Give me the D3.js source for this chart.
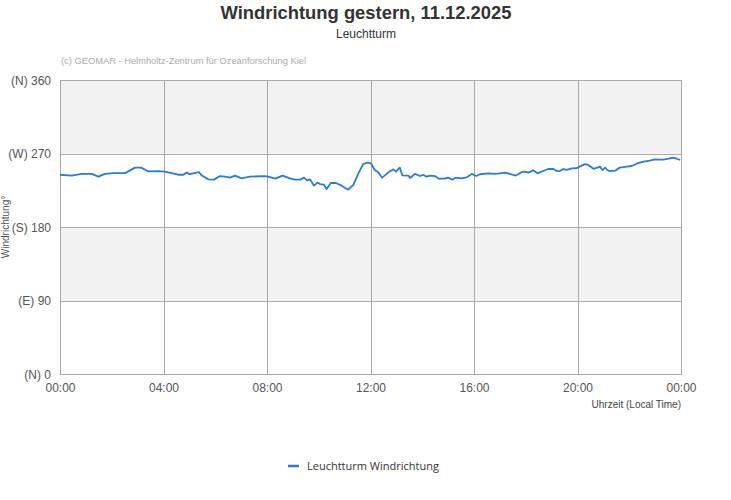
<!DOCTYPE html>
<html>
<head>
<meta charset="utf-8">
<script src="https://cdn.jsdelivr.net/npm/d3@7"></script>
<style>
  body { margin: 0; background: #fff; }
  svg { display: block; font-family: "Liberation Sans", Arial, sans-serif; }
</style>
</head>
<body>
<div id="chart"></div>
<script>
// wind direction readings, time of day
const times = ['00:00','00:27','00:50','01:14','01:29','01:44','02:04','02:31','02:54','03:08','03:25','03:48','04:03','04:34','04:46','04:54','05:01','05:22','05:29','05:44','05:57','06:11','06:23','06:34','06:46','07:01','07:21','07:55','08:03','08:19','08:36','08:53','09:05','09:17','09:26','09:33','09:40','09:49','09:57','10:03','10:12','10:18','10:28','10:40','10:53','11:08','11:20','11:32','11:43','11:51','12:01','12:10','12:18','12:27','12:41','12:53','12:59','13:08','13:14','13:28','13:32','13:43','13:55','14:02','14:10','14:18','14:29','14:39','14:53','15:00','15:10','15:17','15:31','15:43','15:55','16:05','16:14','16:33','16:49','17:00','17:12','17:23','17:37','17:51','17:58','18:06','18:17','18:27','18:37','18:52','19:04','19:12','19:19','19:27','19:35','19:47','19:58','20:06','20:17','20:25','20:37','20:46','20:52','20:58','21:04','21:09','21:15','21:27','21:38','21:54','22:06','22:17','22:33','22:48','22:59','23:11','23:19','23:31','23:41','23:50','23:58'];
const direction = [244,243,245,245,241.6,245,246,246,252.7,252.7,248,248.5,247.8,244,244,246.6,244.6,247.3,243,238.3,238,242.4,241.6,240.4,243,239.6,241.6,242.4,241.6,239.2,243,239.6,238,238,240.4,237.1,238.3,230.6,234.3,232.6,231.8,226.5,234,233.9,230.6,225.7,231.4,245.7,257,258.7,258,249.8,247,240.4,246.6,250.6,247.8,252.7,243.2,243,240,245,242.4,244,241.6,243,242.4,239.2,239.2,240.4,238,240.4,239.6,240.8,245,242.4,244.6,245.7,245,245.7,246.6,245,243,247.3,247.8,246.6,249.4,245.7,248,251,251,248.5,248.5,251,250,251.7,252,254.2,257,256,251.3,252.7,253.9,249.8,252.7,249.8,248.5,249,252.7,253.9,254.7,257.5,260,261.2,262.8,262.4,262.4,263.6,264.9,263.6,262];

const yTicks = [0, 90, 180, 270, 360];
const yTickLabels = ['(N) 0', '(E) 90', '(S) 180', '(W) 270', '(N) 360'];
const xTickHours = [0, 4, 8, 12, 16, 20, 24];
const xTickLabels = ['00:00', '04:00', '08:00', '12:00', '16:00', '20:00', '00:00'];

const width = 731, height = 500;
const margin = { top: 80, right: 50, bottom: 126, left: 60 };
const innerW = width - margin.left - margin.right;
const innerH = height - margin.top - margin.bottom;

const toHours = (s) => { const p = s.split(':'); return +p[0] + p[1] / 60; };
const data = times.map((t, i) => ({ h: toHours(t), v: direction[i] }));

const x = d3.scaleLinear().domain([0, 24]).range([0, innerW]);
const y = d3.scaleLinear().domain([0, 360]).range([innerH, 0]);

const svg = d3.select('#chart').append('svg')
  .attr('width', width)
  .attr('height', height);

// title
svg.append('text')
  .attr('x', 366).attr('y', 19)
  .attr('text-anchor', 'middle')
  .attr('font-size', 18).attr('font-weight', 'bold')
  .attr('fill', '#333')
  .attr('textLength', 291).attr('lengthAdjust', 'spacingAndGlyphs')
  .text('Windrichtung gestern, 11.12.2025');

svg.append('text')
  .attr('x', 366).attr('y', 38)
  .attr('text-anchor', 'middle')
  .attr('font-size', 12)
  .attr('fill', '#333')
  .text('Leuchtturm');

svg.append('text')
  .attr('x', 61).attr('y', 64)
  .attr('font-size', 9.3)
  .attr('fill', '#aaa')
  .attr('textLength', 245).attr('lengthAdjust', 'spacingAndGlyphs')
  .text('(c) GEOMAR - Helmholtz-Zentrum für Ozeanforschung Kiel');

const g = svg.append('g')
  .attr('transform', 'translate(' + margin.left + ',' + margin.top + ')');

// alternating bands
const bands = d3.pairs(yTicks);
g.selectAll('.band')
  .data(bands)
  .enter()
  .append('rect')
  .attr('class', 'band')
  .attr('x', 0)
  .attr('width', innerW)
  .attr('y', (d) => y(d[1]))
  .attr('height', (d) => y(d[0]) - y(d[1]))
  .attr('fill', (d, i) => (i % 2 === 1 ? '#f2f2f2' : '#fff'));

// grid
const yAxis = d3.axisLeft(y)
  .tickValues(yTicks)
  .tickSize(-innerW)
  .tickFormat((d, i) => yTickLabels[i]);

g.append('g')
  .attr('class', 'y axis')
  .call(yAxis)
  .call((s) => s.select('.domain').remove())
  .call((s) => s.selectAll('line').attr('stroke', '#aaa').attr('shape-rendering', 'crispEdges'))
  .call((s) => s.selectAll('text').attr('x', -9).attr('dy', '0.35em')
    .attr('font-size', 12).attr('fill', '#555').attr('font-family', '"Liberation Sans", Arial, sans-serif'));

const xAxis = d3.axisBottom(x)
  .tickValues(xTickHours)
  .tickSize(-innerH)
  .tickFormat((d, i) => xTickLabels[i]);

g.append('g')
  .attr('class', 'x axis')
  .attr('transform', 'translate(0,' + innerH + ')')
  .call(xAxis)
  .call((s) => s.select('.domain').attr('stroke', '#aaa').attr('shape-rendering', 'crispEdges'))
  .call((s) => s.selectAll('line').attr('stroke', '#aaa').attr('shape-rendering', 'crispEdges'))
  .call((s) => s.selectAll('text').attr('y', 9).attr('dy', '0.71em')
    .attr('font-size', 12).attr('fill', '#555').attr('font-family', '"Liberation Sans", Arial, sans-serif'));

// line
const line = d3.line()
  .x((d) => x(d.h))
  .y((d) => y(d.v));

g.append('path')
  .datum(data)
  .attr('d', line)
  .attr('fill', 'none')
  .attr('stroke', '#2b7bd8')
  .attr('stroke-width', 1.8)
  .attr('stroke-linejoin', 'round');

// axis titles
svg.append('text')
  .attr('transform', 'translate(9,' + (margin.top + innerH / 2) + ') rotate(-90)')
  .attr('text-anchor', 'middle')
  .attr('font-size', 10)
  .attr('fill', '#555')
  .text('Windrichtung°');

svg.append('text')
  .attr('x', margin.left + innerW).attr('y', 408)
  .attr('text-anchor', 'end')
  .attr('font-size', 10)
  .attr('fill', '#444')
  .text('Uhrzeit (Local Time)');

// legend
const legend = svg.append('g').attr('transform', 'translate(288,466)');
legend.append('line')
  .attr('x1', 0).attr('x2', 11)
  .attr('stroke', '#2b7bd8').attr('stroke-width', 2.5);
legend.append('text')
  .attr('x', 19).attr('dy', '0.35em')
  .attr('font-size', 11)
  .attr('font-family', '"Open Sans", sans-serif')
  .attr('fill', '#333')
  .text('Leuchtturm Windrichtung');
</script>
</body>
</html>
